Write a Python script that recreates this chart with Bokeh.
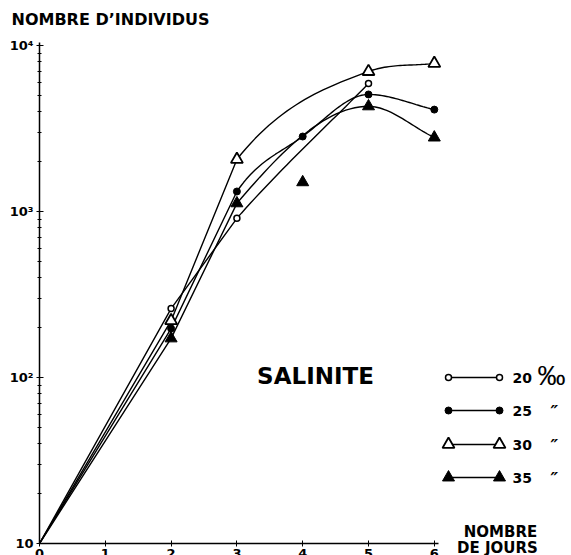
import numpy as np
from bokeh.plotting import figure
from bokeh.models import (Range1d, FixedTicker, Label, LabelSet, ColumnDataSource,
                          LinearScale)
from bokeh.core.properties import value
from bokeh.embed import file_html
from bokeh.resources import INLINE

# ---------------- data ----------------
x_ticks = [0, 1, 2, 3, 4, 5, 6]
x_tick_labels = ["0", "1", "2", "3", "4", "5", "6"]
y_ticks = [10, 100, 1000, 10000]
y_tick_labels = ["10", "10²", "10³", "10⁴"]

s20_days = [0, 2, 3, 5]
s20_vals = [10, 260, 910, 5900]
s25_days = [0, 2, 3, 4, 5, 6]
s25_vals = [10, 197, 1320, 2830, 5070, 4110]
s30_days = [0, 2, 3, 5, 6]
s30_vals = [10, 220, 2060, 6970, 7800]
s35_days = [0, 2, 3, 4, 5, 6]
s35_vals = [10, 172, 1120, 1500, 4300, 2790]
s35_on_curve = [True, True, True, False, True, True]

series_names = ["20", "25", "30", "35"]
series_suffix = ["‰", "″", "″", "″"]
y_title = "NOMBRE D\u2019INDIVIDUS"
x_title = ["NOMBRE", "DE JOURS"]
center_title = "SALINITE"

# ---------------- layout ----------------
W, H = 571, 555
X0_PX, PX_PER_DAY = 39, 65.8          # page x of day 0, pixels per day
Y10_PX, PX_PER_DEC = 543, 166         # page y of 10, pixels per decade

FONT = "DejaVu Sans"

x_lo = -X0_PX / PX_PER_DAY
x_hi = (W - X0_PX) / PX_PER_DAY
y_lo = 10 ** (1 - (H - Y10_PX) / PX_PER_DEC)
y_hi = 10 ** (1 + Y10_PX / PX_PER_DEC)


def smooth(xs, ys, smooth_from=3, n=30):
    """Straight segments before day `smooth_from`, monotone cubic after."""
    lx = [float(v) for v in xs]
    ly = [float(np.log10(v)) for v in ys]
    ox, oy = [lx[0]], [ly[0]]

    def ytan(i):
        if i == 0:
            return (ly[1] - ly[0]) / (lx[1] - lx[0])
        if i == len(lx) - 1:
            return (ly[i] - ly[i - 1]) / (lx[i] - lx[i - 1])
        a = (ly[i] - ly[i - 1]) / (lx[i] - lx[i - 1])
        b = (ly[i + 1] - ly[i]) / (lx[i + 1] - lx[i])
        if a * b <= 0:
            return 0.0
        m = (ly[i + 1] - ly[i - 1]) / (lx[i + 1] - lx[i - 1])
        return min(m, 3 * a, 3 * b) if m > 0 else max(m, 3 * a, 3 * b)

    for i in range(len(lx) - 1):
        x1, x2, y1, y2 = lx[i], lx[i + 1], ly[i], ly[i + 1]
        if x1 < smooth_from:
            ox.append(x2); oy.append(y2)
            continue
        h = x2 - x1
        m1, m2 = ytan(i), ytan(i + 1)
        for t in np.linspace(0, 1, n)[1:]:
            h00 = 2 * t**3 - 3 * t**2 + 1
            h10 = t**3 - 2 * t**2 + t
            h01 = -2 * t**3 + 3 * t**2
            h11 = t**3 - t**2
            ox.append(x1 + t * h)
            oy.append(h00 * y1 + h10 * h * m1 + h01 * y2 + h11 * h * m2)
    return ox, [10**v for v in oy]


p = figure(width=W, height=H, output_backend="svg", toolbar_location=None,
           y_axis_type="log",
           x_range=Range1d(x_lo, x_hi), y_range=Range1d(y_lo, y_hi),
           min_border_left=0, min_border_right=0, min_border_top=0,
           min_border_bottom=0, outline_line_color=None)
p.grid.visible = False
p.background_fill_color = "white"
p.border_fill_color = "white"

# page-pixel helper ranges (y measured downward, stored negated)
p.extra_x_ranges["px"] = Range1d(0, W)
p.extra_x_scales["px"] = LinearScale()
p.extra_y_ranges["py"] = Range1d(-H, 0)
p.extra_y_scales["py"] = LinearScale()

# axes, placed inside the frame
xa = p.xaxis[0]
xa.fixed_location = 10
xa.ticker = FixedTicker(ticks=x_ticks)
xa.bounds = (0, 6.07)
xa.major_label_overrides = {t: l for t, l in zip(x_ticks, x_tick_labels)}
xa.major_label_text_font = FONT
xa.major_label_text_font_style = "bold"
xa.major_label_text_font_size = "13px"
xa.major_label_text_color = "black"
xa.major_label_standoff = 2
xa.major_tick_in = 3
xa.major_tick_out = 3
xa.minor_tick_line_color = None
xa.axis_line_width = 1.5
xa.axis_line_color = "black"

ya = p.yaxis[0]
ya.fixed_location = 0
minor = [m * d for d in (10, 100, 1000) for m in range(2, 10)]
ya.ticker = FixedTicker(ticks=y_ticks, minor_ticks=minor)
ya.bounds = (10, 10 ** 4.02)
ya.major_label_overrides = {t: l for t, l in zip(y_ticks, y_tick_labels)}
ya.major_label_text_font = FONT
ya.major_label_text_font_style = "bold"
ya.major_label_text_font_size = "13px"
ya.major_label_text_color = "black"
ya.major_label_standoff = 3
ya.major_tick_in = 4
ya.major_tick_out = 3
ya.minor_tick_in = 2
ya.minor_tick_out = 2
ya.axis_line_width = 1.5
ya.axis_line_color = "black"

# curves
LW = 1.4
for d, v in [(s20_days, s20_vals), (s25_days, s25_vals), (s30_days, s30_vals)]:
    cx, cy = smooth(d, v)
    p.line(cx, cy, line_color="black", line_width=LW)
d35 = [x for x, k in zip(s35_days, s35_on_curve) if k]
v35 = [y for y, k in zip(s35_vals, s35_on_curve) if k]
cx, cy = smooth(d35, v35)
p.line(cx, cy, line_color="black", line_width=LW)

# markers (origin point is just the common start of the lines)
p.scatter(s20_days[1:], s20_vals[1:], marker="circle", size=6,
          fill_color="white", line_color="black", line_width=1.5)
p.scatter(s25_days[1:], s25_vals[1:], marker="circle", size=7,
          fill_color="black", line_color="black")
p.scatter(s30_days[1:], s30_vals[1:], marker="triangle", size=12,
          fill_color="white", line_color="black", line_width=1.8)
p.scatter(s35_days[1:], s35_vals[1:], marker="triangle", size=12,
          fill_color="black", line_color="black")

# legend (manual, in page-pixel coordinates)
row_y = [-377, -410, -444, -477]
x_l, x_r = 448, 499
styles = [("circle", 6, "white", 1.5), ("circle", 7, "black", 1),
          ("triangle", 12, "white", 1.8), ("triangle", 12, "black", 1)]
for yy, (mk, sz, fc, lw) in zip(row_y, styles):
    p.line([x_l, x_r], [yy, yy], line_color="black", line_width=LW,
           x_range_name="px", y_range_name="py")
    p.scatter([x_l, x_r], [yy, yy], marker=mk, size=sz, fill_color=fc,
              line_color="black", line_width=lw,
              x_range_name="px", y_range_name="py")

leg_src = ColumnDataSource(dict(x=[512] * 4, y=row_y, t=series_names))
p.add_layout(LabelSet(x="x", y="y", text="t", source=leg_src,
                      x_range_name="px", y_range_name="py",
                      text_font=value(FONT), text_font_style="bold",
                      text_font_size="14px", text_baseline="middle",
                      text_align="left", text_color="black"))
p.add_layout(Label(x=537, y=row_y[0] + 2, text=series_suffix[0],
                   x_range_name="px", y_range_name="py",
                   text_font="Liberation Sans", text_font_size="28px",
                   text_baseline="middle", text_align="left", text_color="black"))
suf_src = ColumnDataSource(dict(x=[550] * 3, y=[yy - 1 for yy in row_y[1:]],
                                t=series_suffix[1:]))
p.add_layout(LabelSet(x="x", y="y", text="t", source=suf_src,
                      x_range_name="px", y_range_name="py",
                      text_font=value(FONT), text_font_style="bold italic",
                      text_font_size="17px", text_baseline="middle",
                      text_align="left", text_color="black"))

# centre title
p.add_layout(Label(x=315, y=-375, text=center_title,
                   x_range_name="px", y_range_name="py",
                   text_font=FONT, text_font_style="bold",
                   text_font_size="23px", text_baseline="middle",
                   text_align="center", text_color="black"))

# y title
p.add_layout(Label(x=11, y=-9, text=y_title,
                   x_range_name="px", y_range_name="py",
                   text_font=FONT, text_font_style="bold",
                   text_font_size="16px", text_baseline="top",
                   text_align="left", text_color="black"))

# x title
p.add_layout(Label(x=500, y=-522, text=x_title[0],
                   x_range_name="px", y_range_name="py",
                   text_font=FONT, text_font_style="bold",
                   text_font_size="15px", text_baseline="top",
                   text_align="center", text_color="black"))
p.add_layout(Label(x=497, y=-538, text=x_title[1],
                   x_range_name="px", y_range_name="py",
                   text_font=FONT, text_font_style="bold",
                   text_font_size="15px", text_baseline="top",
                   text_align="center", text_color="black"))

open("out.html", "w").write(file_html(p, INLINE))
